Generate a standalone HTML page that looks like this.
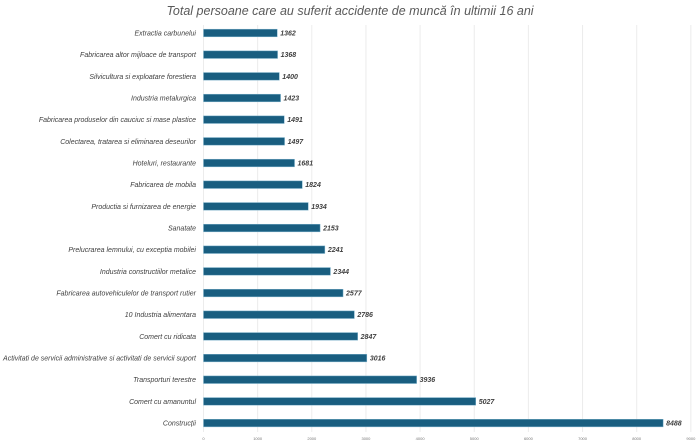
<!DOCTYPE html>
<html><head><meta charset="utf-8"><style>
body{margin:0;background:#fff;}
svg{display:block;font-family:"Liberation Sans",sans-serif;}
</style></head><body>
<svg id="chart" width="700" height="444">
<text x="350" y="15" text-anchor="middle" font-size="12.5" font-style="italic" fill="#595959">Total persoane care au suferit accidente de muncă în ultimii 16 ani</text>
<g id="grid"></g><g id="bars"></g><g id="ticks"></g>
</svg>
<script>
const categories=["Extractia carbunelui","Fabricarea altor mijloace de transport","Silvicultura si exploatare forestiera","Industria metalurgica","Fabricarea produselor din cauciuc si mase plastice","Colectarea, tratarea si eliminarea deseurilor","Hoteluri, restaurante","Fabricarea de mobila","Productia si furnizarea de energie","Sanatate","Prelucrarea lemnului, cu exceptia mobilei","Industria constructiilor metalice","Fabricarea autovehiculelor de transport rutier","10 Industria alimentara","Comert cu ridicata","Activitati de servicii administrative si activitati de servicii suport","Transporturi terestre","Comert cu amanuntul","Construcții"];
const values=[1362,1368,1400,1423,1491,1497,1681,1824,1934,2153,2241,2344,2577,2786,2847,3016,3936,5027,8488];
const tickValues=[0,1000,2000,3000,4000,5000,6000,7000,8000,9000];
const NS="http://www.w3.org/2000/svg";
const x0=203.5,pxPer=54.15/1000;
const xs=v=>x0+v*pxPer;
const ys=i=>33+i*21.67;
function mk(t,a,p){const e=document.createElementNS(NS,t);for(const k in a)e.setAttribute(k,a[k]);p.appendChild(e);return e;}
const g=document.getElementById('grid'),b=document.getElementById('bars'),tk=document.getElementById('ticks');
tickValues.forEach(v=>{
 const l=mk('line',{x1:xs(v),x2:xs(v),y1:25,y2:432,stroke:'#ececec','stroke-width':1},g);
 
 
 const t=mk('text',{x:xs(v),y:440,'text-anchor':'middle','font-size':4,fill:'#777'},tk);
 t.textContent=v;
 
 
});
categories.forEach((c,i)=>{
 const y=ys(i);
 const r=mk('rect',{x:x0,y:y-3.8,width:xs(values[i])-x0,height:7.6,fill:'#195e80',stroke:'#7fb3cc','stroke-width':0.5},b);
 
 
 const lt=mk('text',{x:196,y:y+2.5,'text-anchor':'end','font-size':7,'font-style':'italic',fill:'#404040'},b);
 lt.textContent=c;
 
 
 const vt=mk('text',{x:xs(values[i])+3,y:y+2.5,'font-size':7,'font-style':'italic','font-weight':'bold',fill:'#404040'},b);
 vt.textContent=values[i];
 
 
});
</script>
</body></html>
